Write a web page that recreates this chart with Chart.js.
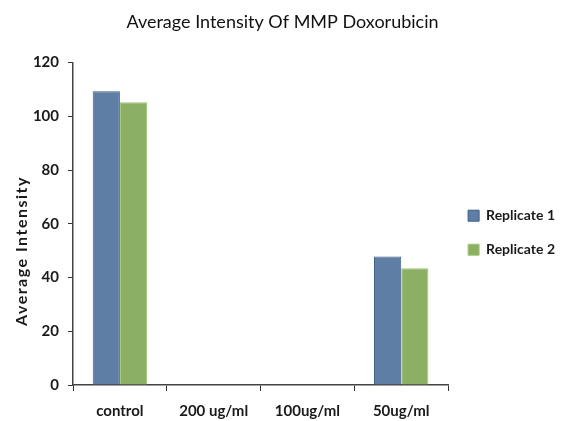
<!DOCTYPE html>
<html>
<head>
<meta charset="utf-8">
<script src="https://cdn.jsdelivr.net/npm/chart.js@4"></script>
<style>
  html, body { margin: 0; padding: 0; background: #fff; }
  #wrap { width: 565px; height: 421px; position: relative; }
</style>
</head>
<body>
<div id="wrap"><canvas id="chart"></canvas></div>
<script>
const categories = ['control', '200 ug/ml', '100ug/ml', '50ug/ml'];
const replicate1 = [109.3, 0, 0, 47.8];
const replicate2 = [105.2, 0, 0, 43.5];
const yTicks = [0, 20, 40, 60, 80, 100, 120];

const FONT = 'Lato, "Open Sans", sans-serif';

// y title sits a bit below the plot centre in the original, so draw it by hand
const yTitle = {
  id: 'yTitle',
  afterDraw(chart) {
    const ctx = chart.ctx;
    ctx.save();
    ctx.translate(22, 251);
    ctx.rotate(-Math.PI / 2);
    ctx.font = 'bold 16px ' + FONT;
    ctx.letterSpacing = '1.5px';
    ctx.fillStyle = '#1a1a1a';
    ctx.textAlign = 'center';
    ctx.textBaseline = 'middle';
    ctx.fillText('Average Intensity', 0, 0);
    ctx.restore();
  }
};

new Chart(document.getElementById('chart'), {
  type: 'bar',
  data: {
    labels: categories,
    datasets: [
      {
        label: 'Replicate 1',
        data: replicate1,
        backgroundColor: '#5f7ea5',
        borderColor: '#3d5d85',
        borderWidth: 1,
      },
      {
        label: 'Replicate 2',
        data: replicate2,
        backgroundColor: '#8bb063',
        borderColor: '#a0c478',
        borderWidth: 1,
      },
    ],
  },
  options: {
    responsive: true,
    maintainAspectRatio: false,
    animation: false,
    devicePixelRatio: 1,
    layout: { padding: { top: 0, left: 0, right: 0, bottom: 0 } },
    datasets: { bar: { categoryPercentage: 0.58, barPercentage: 1.0 } },
    plugins: {
      title: {
        display: true,
        text: 'Average Intensity Of MMP Doxorubicin',
        color: '#111',
        font: { family: FONT, size: 18, weight: 'normal' },
        padding: { top: 11, bottom: 30 },
      },
      legend: {
        position: 'right',
        align: 'center',
        title: { display: true, text: ' ', padding: { top: 15, bottom: 15 }, font: { size: 12 } },
        labels: {
          color: '#1a1a1a',
          boxWidth: 11,
          boxHeight: 11,
          padding: 20,
          font: { family: FONT, size: 14, weight: 'bold' },
        },
      },
      tooltip: { enabled: false },
    },
    scales: {
      x: {
        afterFit(scale) { scale.height = 36; },
        grid: {
          display: true,
          drawOnChartArea: false,
          offset: true,
          tickLength: 6,
          color: '#333',
        },
        border: { display: true, color: '#444', width: 1.5 },
        ticks: {
          color: '#1a1a1a',
          padding: 11,
          font: { family: FONT, size: 15, weight: 'bold' },
        },
      },
      y: {
        min: 0,
        max: 120,
        afterBuildTicks(scale) {
          scale.ticks = yTicks.map(v => ({ value: v }));
        },
        afterFit(scale) { scale.width = 73; },
        grid: {
          display: true,
          drawOnChartArea: false,
          tickLength: 5,
          color: '#333',
        },
        border: { display: true, color: '#444', width: 1.5 },
        ticks: {
          color: '#1a1a1a',
          padding: 9,
          font: { family: FONT, size: 15, weight: 'bold' },
        },
      },
    },
  },
  plugins: [yTitle],
});
</script>
</body>
</html>
